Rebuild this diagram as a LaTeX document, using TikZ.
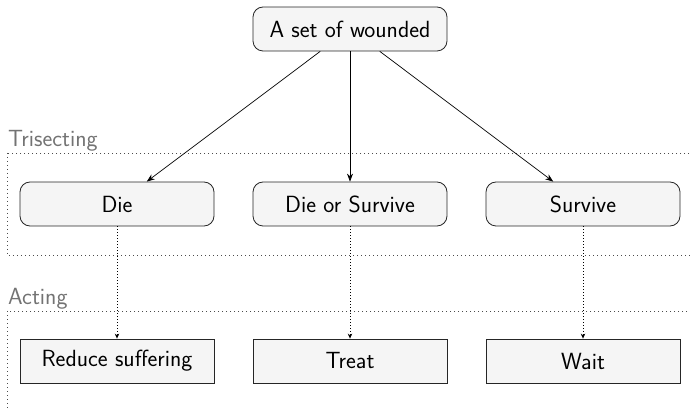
\documentclass[tikz,border=0pt]{standalone}
\usepackage{fontspec}
\usetikzlibrary{arrows.meta}
\begin{document}
\begin{tikzpicture}[x=1pt,y=1pt,
  font=\sffamily\fontsize{23.4}{27}\selectfont,
  roundbox/.style={draw=black!85, fill=black!4, rounded corners=10pt, minimum width=194pt, minimum height=44pt, line width=0.8pt},
  plainbox/.style={draw=black!85, fill=black!4, minimum width=194pt, minimum height=44pt, line width=0.8pt},
  grouplabel/.style={text=black!55, anchor=base west, inner sep=0pt},
  groupframe/.style={draw=black!70, line width=0.8pt, dash pattern=on 0.8pt off 3.2pt},
  solidarrow/.style={-{Stealth[length=8pt,width=6pt]}, line width=0.7pt},
  dotarrow/.style={-{Stealth[length=5pt,width=4.5pt]}, line width=0.8pt, dash pattern=on 0.8pt off 2.2pt}]
\useasboundingbox (0,0) rectangle (690,-411);
\begin{scope}
\clip (0,0) rectangle (690,-411);
% group frames
\draw[groupframe] (7,-153) rectangle (720,-255);
\draw[groupframe] (7,-311) rectangle (720,-440);
\end{scope}
\node[grouplabel] (tri) at (8,-147) {Trisecting};
\node[grouplabel] (act) at (8,-305) {Acting};
% nodes
\node[roundbox] (root) at (350,-29) {A set of wounded};
\node[roundbox] (die) at (117,-204) {Die};
\node[roundbox] (dos) at (350,-204) {Die or Survive};
\node[roundbox] (surv) at (583,-204) {Survive};
\node[plainbox] (red) at (117,-361) {Reduce suffering};
\node[plainbox] (treat) at (350,-361) {Treat};
\node[plainbox] (wait) at (583,-361) {Wait};
% connectors
\draw[solidarrow] (root) -- (die);
\draw[solidarrow] (root) -- (dos);
\draw[solidarrow] (root) -- (surv);
\draw[dotarrow] (die) -- (red);
\draw[dotarrow] (dos) -- (treat);
\draw[dotarrow] (surv) -- (wait);
\end{tikzpicture}
\end{document}
